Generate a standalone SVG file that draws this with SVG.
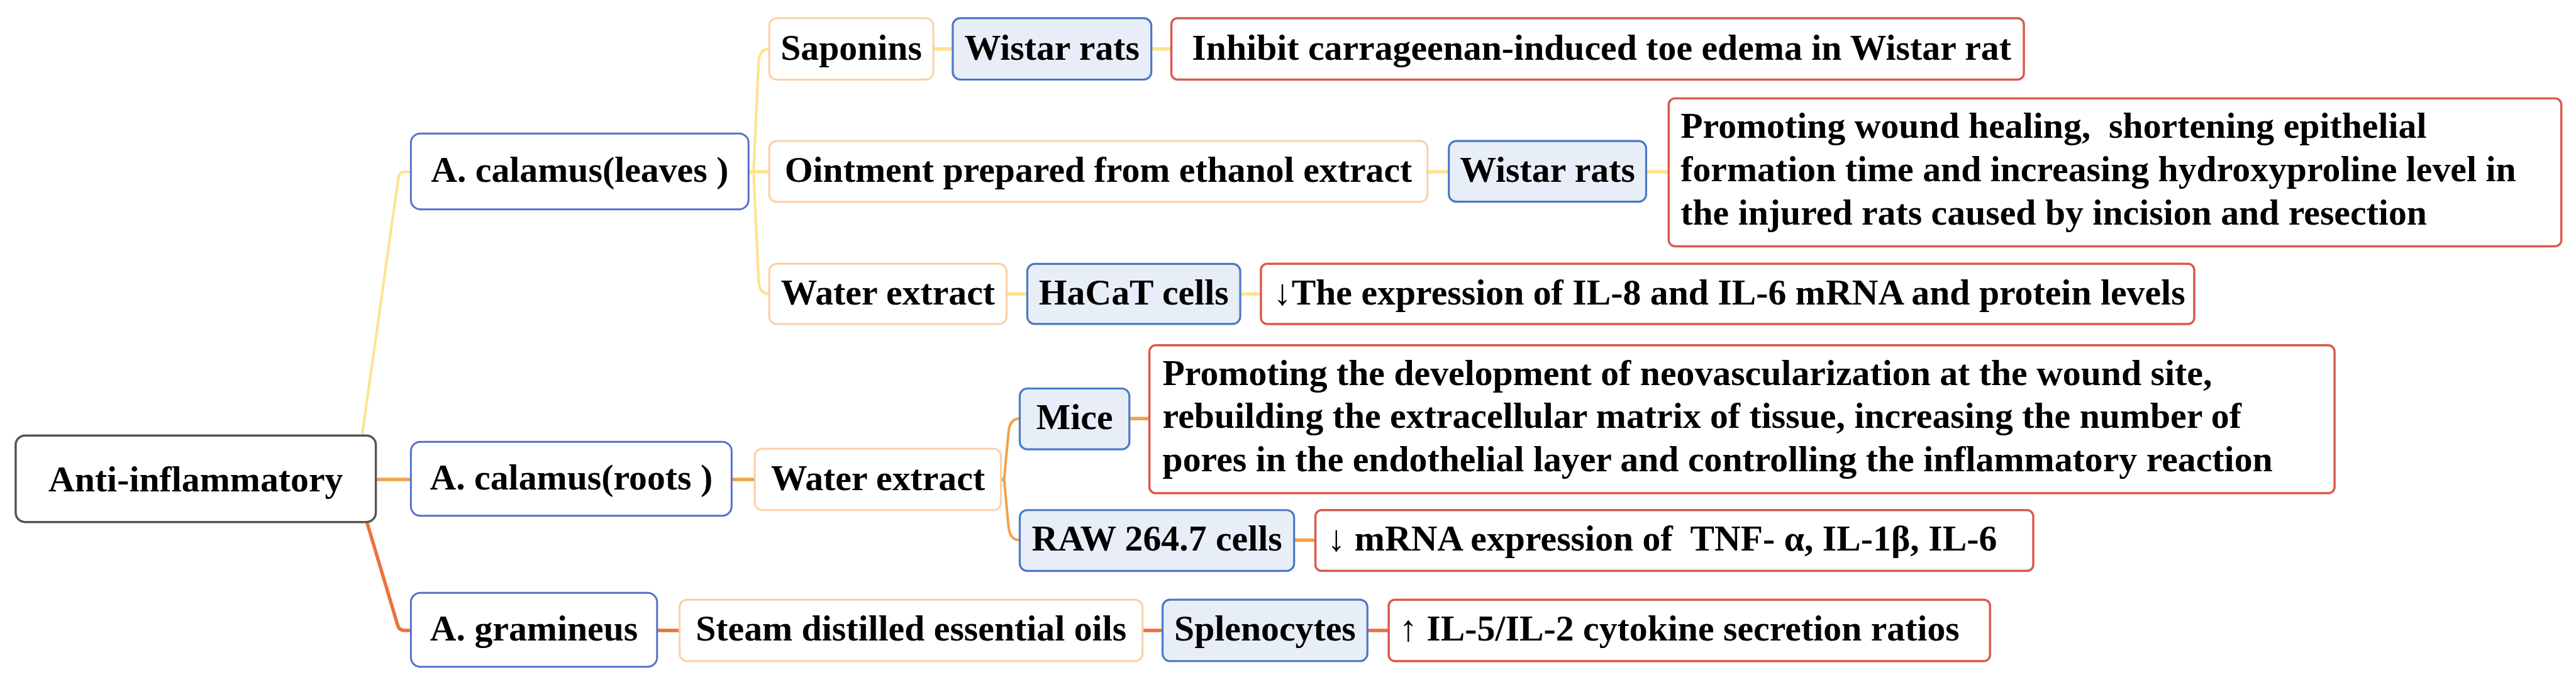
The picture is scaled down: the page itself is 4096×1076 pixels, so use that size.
<svg xmlns="http://www.w3.org/2000/svg" width="4096" height="1076" viewBox="0 0 4096 1076">
<style>
text{font-family:"Liberation Serif","Times New Roman",serif;font-weight:bold;font-size:58px;fill:#000;white-space:pre}
.c{text-anchor:middle}
.root{fill:#fff;stroke:#555;stroke-width:3.5}
.l1{fill:#fff;stroke:#5470CC;stroke-width:3}
.l2{fill:#fff;stroke:#FBCFA5;stroke-width:3}
.l3{fill:#E8EEF7;stroke:#4A78C6;stroke-width:3.2}
.l4{fill:#fff;stroke:#D95A4E;stroke-width:3.5}
.cn{fill:none;stroke-linecap:butt;stroke-linejoin:round}
.y{stroke:#FFE28A}
.o{stroke:#F2A04C}
.r{stroke:#E9743B}
.t{stroke-width:4}
.s{stroke-width:5.5}
</style>
<rect width="4096" height="1076" fill="#fff"/>
<g transform="scale(0.996)">
<g id="connectors">
<path class="cn y t" d="M578 695 L636 284 Q637 274 646 274 L656 274"/>
<path class="cn o s" d="M600 765 H656"/>
<path class="cn r s" d="M586 834 L635 998 Q637 1006 646 1006 H656"/>
<path class="cn y s" d="M1195 274 H1228"/>
<path class="cn y t" d="M1203 274 L1211 100 Q1212 78 1228 78"/>
<path class="cn y t" d="M1203 274 L1211 447 Q1212 469 1228 469"/>
<path class="cn y s" d="M1490 78 H1521"/>
<path class="cn y s" d="M1838 78 H1870"/>
<path class="cn y s" d="M2279 274 H2313"/>
<path class="cn y s" d="M2628 274 H2664"/>
<path class="cn y s" d="M1607 469 H1640"/>
<path class="cn y s" d="M1980 469 H2013"/>
<path class="cn o s" d="M1168 765 H1205"/>
<path class="cn o s" d="M1598 765 H1604"/>
<path class="cn o t" d="M1603 765 L1610 690 Q1612 668 1628 668"/>
<path class="cn o t" d="M1603 765 L1610 840 Q1612 862 1628 862"/>
<path class="cn o s" d="M1803 668 H1835"/>
<path class="cn o s" d="M2066 862 H2100"/>
<path class="cn r s" d="M1049 1006 H1085"/>
<path class="cn r s" d="M1824 1006 H1856"/>
<path class="cn r s" d="M2183 1006 H2217"/>
</g>
<g id="root"><rect class="root" x="25" y="695" width="575" height="138" rx="15"/><text class="c" x="312.5" y="784">Anti-inflammatory</text></g>
<g id="leaves"><rect class="l1" x="656" y="213" width="539" height="121" rx="15"/><text class="c" x="925.5" y="290">A. calamus(leaves )</text></g>
<g id="roots"><rect class="l1" x="656" y="705" width="512" height="118" rx="15"/><text class="c" x="912" y="781">A. calamus(roots )</text></g>
<g id="gramineus"><rect class="l1" x="656" y="946" width="393" height="118" rx="15"/><text class="c" x="852.5" y="1022">A. gramineus</text></g>
<g id="saponins"><rect class="l2" x="1228" y="29" width="262" height="98" rx="12"/><text class="c" x="1359" y="95">Saponins</text></g>
<g id="ointment"><rect class="l2" x="1228" y="225" width="1051" height="97" rx="12"/><text class="c" x="1753.5" y="290">Ointment prepared from ethanol extract</text></g>
<g id="water-leaves"><rect class="l2" x="1228" y="421" width="379" height="96" rx="12"/><text class="c" x="1417.5" y="486">Water extract</text></g>
<g id="water-roots"><rect class="l2" x="1205" y="716" width="393" height="98" rx="12"/><text class="c" x="1401.5" y="782">Water extract</text></g>
<g id="steam"><rect class="l2" x="1085" y="957" width="739" height="98" rx="12"/><text class="c" x="1454.5" y="1022">Steam distilled essential oils</text></g>
<g id="wistar1"><rect class="l3" x="1521" y="29" width="317" height="98" rx="12"/><text class="c" x="1679.5" y="95">Wistar rats</text></g>
<g id="wistar2"><rect class="l3" x="2313" y="225" width="315" height="97" rx="12"/><text class="c" x="2470.5" y="290">Wistar rats</text></g>
<g id="hacat"><rect class="l3" x="1640" y="421" width="340" height="96" rx="12"/><text class="c" x="1810" y="486">HaCaT cells</text></g>
<g id="mice"><rect class="l3" x="1628" y="620" width="175" height="97" rx="12"/><text class="c" x="1715.5" y="685">Mice</text></g>
<g id="raw"><rect class="l3" x="1628" y="814" width="438" height="97" rx="12"/><text class="c" x="1847" y="879">RAW 264.7 cells</text></g>
<g id="splenocytes"><rect class="l3" x="1856" y="957" width="327" height="98" rx="12"/><text class="c" x="2019.5" y="1022">Splenocytes</text></g>
<g id="effect1"><rect class="l4" x="1870" y="29" width="1361" height="98" rx="10"/><text x="1903" y="95">Inhibit carrageenan-induced toe edema in Wistar rat</text></g>
<g id="effect2"><rect class="l4" x="2664" y="157" width="1425" height="236" rx="10"/><text x="2683" y="220">Promoting wound healing,  shortening epithelial</text><text x="2683" y="289">formation time and increasing hydroxyproline level in</text><text x="2683" y="358">the injured rats caused by incision and resection</text></g>
<g id="effect3"><rect class="l4" x="2013" y="421" width="1490" height="96" rx="10"/><text x="2033" y="486">↓The expression of IL-8 and IL-6 mRNA and protein levels</text></g>
<g id="effect4"><rect class="l4" x="1835" y="551" width="1892" height="236" rx="10"/><text x="1856" y="614">Promoting the development of neovascularization at the wound site,</text><text x="1856" y="683">rebuilding the extracellular matrix of tissue, increasing the number of</text><text x="1856" y="752">pores in the endothelial layer and controlling the inflammatory reaction</text></g>
<g id="effect5"><rect class="l4" x="2100" y="814" width="1146" height="97" rx="10"/><text x="2119" y="879">↓ mRNA expression of  TNF- α, IL-1β, IL-6</text></g>
<g id="effect6"><rect class="l4" x="2217" y="957" width="960" height="98" rx="10"/><text x="2234" y="1022">↑ IL-5/IL-2 cytokine secretion ratios</text></g>
</g>
</svg>
